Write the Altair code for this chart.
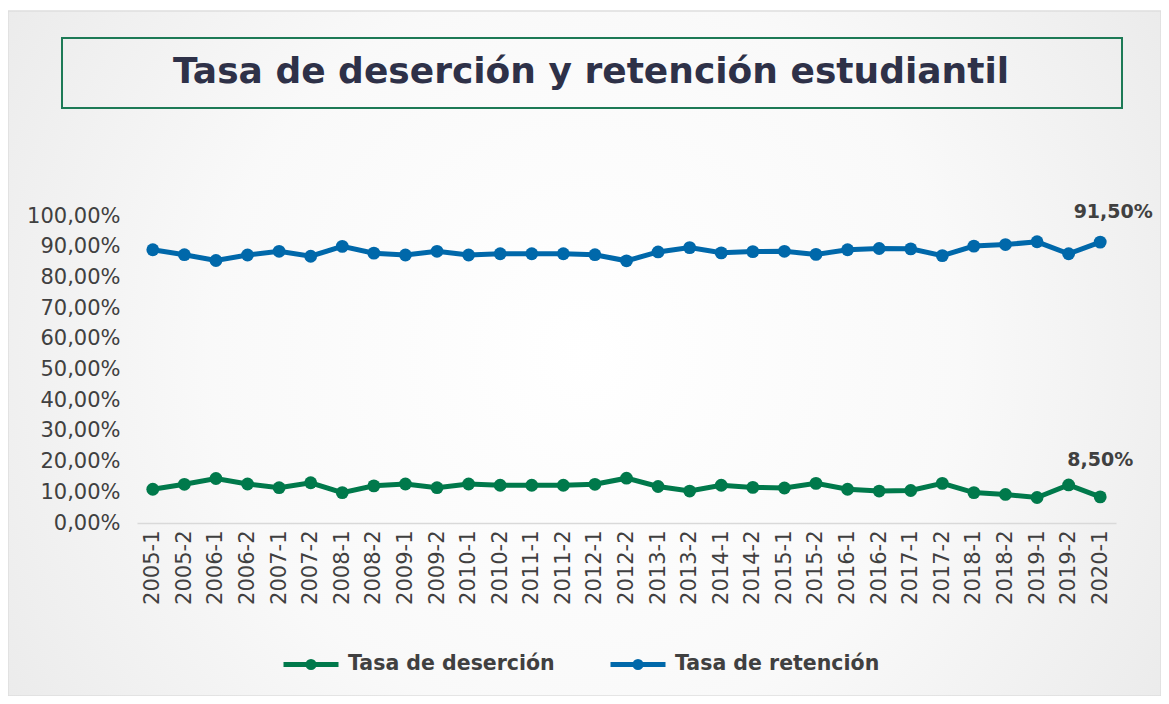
import altair as alt
import pandas as pd

# ---------------- data ----------------
periods = [
    "2005-1", "2005-2", "2006-1", "2006-2", "2007-1", "2007-2", "2008-1", "2008-2",
    "2009-1", "2009-2", "2010-1", "2010-2", "2011-1", "2011-2", "2012-1", "2012-2",
    "2013-1", "2013-2", "2014-1", "2014-2", "2015-1", "2015-2", "2016-1", "2016-2",
    "2017-1", "2017-2", "2018-1", "2018-2", "2019-1", "2019-2", "2020-1",
]
retencion = [
    89.0, 87.4, 85.5, 87.3, 88.5, 86.9, 90.1, 87.9, 87.3, 88.5, 87.3, 87.7, 87.7, 87.7, 87.4, 85.4,
    88.3, 89.7, 88.0, 88.4, 88.5, 87.5, 89.0, 89.4, 89.3, 87.1, 90.2, 90.7, 91.6, 87.7, 91.5,
]
desercion = [
    11.0, 12.6, 14.5, 12.7, 11.5, 13.1, 9.9, 12.1, 12.7, 11.5, 12.7, 12.3, 12.3, 12.3, 12.6, 14.6,
    11.9, 10.4, 12.3, 11.6, 11.4, 12.9, 11.0, 10.4, 10.6, 12.9, 9.9, 9.3, 8.3, 12.4, 8.5,
]
series_names = ["Tasa de deserción", "Tasa de retención"]
series_colors = ["#00794b", "#0068aa"]
y_ticks = [0, 10, 20, 30, 40, 50, 60, 70, 80, 90, 100]
title_text = "Tasa de deserción y retención estudiantil"

rows = []
for i, p in enumerate(periods):
    rows.append({"periodo": p, "serie": series_names[0], "valor": desercion[i], "idx": i})
    rows.append({"periodo": p, "serie": series_names[1], "valor": retencion[i], "idx": i})
df = pd.DataFrame(rows)
last_idx = len(periods) - 1

# ---------------- layout ----------------
W, H = 979, 307
PAD = {"left": 129, "top": 208, "right": 45, "bottom": 173}
FONT = "DejaVu Sans"
TXT = "#404040"

one = pd.DataFrame({"k": [0]})

background = alt.Chart(one).mark_rect(
    color=alt.Gradient(
        gradient="radial",
        stops=[
            alt.GradientStop(color="#ffffff", offset=0),
            alt.GradientStop(color="#f9f9f9", offset=0.45),
            alt.GradientStop(color="#e4e4e4", offset=1),
        ],
        x1=0.5, y1=0.5, r1=0, x2=0.5, y2=0.5, r2=0.72,
    ),
    stroke="#dedede",
    strokeWidth=1.5,
).encode(
    x=alt.value(-129), x2=alt.value(W + 45),
    y=alt.value(-205), y2=alt.value(H + 173),
)

title_box = alt.Chart(one).mark_rect(
    fillOpacity=0, stroke="#1d7a56", strokeWidth=2
).encode(
    x=alt.value(-75), x2=alt.value(985),
    y=alt.value(-178), y2=alt.value(-108),
)

title = alt.Chart(one).mark_text(
    font=FONT, fontSize=36, fontWeight="bold", color="#2e3148",
    align="center", baseline="middle",
).encode(
    x=alt.value(454), y=alt.value(-144), text=alt.value(title_text)
)

x_enc = alt.X(
    "periodo:N", sort=periods, title=None,
    axis=alt.Axis(
        labelAngle=-90, labelFont=FONT, labelFontSize=21, labelColor=TXT,
        ticks=False, domainColor="#d9d9d9", domainWidth=1.5, labelPadding=7,
        grid=False, zindex=1, labelOverlap=False,
    ),
)
y_enc = alt.Y(
    "valor:Q", title=None,
    scale=alt.Scale(domain=[0, 100], nice=False, zero=True),
    axis=alt.Axis(
        values=y_ticks, labelFont=FONT, labelFontSize=21, labelColor=TXT,
        labelExpr="replace(format(datum.value, '.2f'), '.', ',') + '%'",
        ticks=False, domain=False, grid=False, labelPadding=17, zindex=1,
        labelOverlap=False, labelFlush=False, labelBound=False,
    ),
)

lines = alt.Chart(df).mark_line(
    strokeWidth=5,
    point=alt.OverlayMarkDef(size=165, filled=True, opacity=1),
).encode(
    x=x_enc,
    y=y_enc,
    color=alt.Color(
        "serie:N",
        scale=alt.Scale(domain=series_names, range=series_colors),
        legend=alt.Legend(
            title=None, orient="none", direction="horizontal",
            legendX=144, legendY=418,
            symbolType="M-1,0H1M-0.11,0a0.11,0.11 0 1,0 0.22,0a0.11,0.11 0 1,0 -0.22,0",
            symbolSize=3025, symbolStrokeWidth=5,
            labelFont=FONT, labelFontSize=20.5, labelFontWeight="bold",
            labelColor=TXT, labelOffset=7, columnPadding=45, zindex=1,
            labelLimit=0,
        ),
    ),
)

label_expr = "replace(format(datum.valor, '.2f'), '.', ',') + '%'"

lab_ret = alt.Chart(df).transform_filter(
    (alt.datum.idx == last_idx) & (alt.datum.serie == series_names[1])
).transform_calculate(lbl=label_expr).mark_text(
    font=FONT, fontSize=19, fontWeight="bold", color=TXT,
    align="center", baseline="middle", dx=13, dy=-30,
).encode(x=x_enc, y=y_enc, text="lbl:N")

lab_des = alt.Chart(df).transform_filter(
    (alt.datum.idx == last_idx) & (alt.datum.serie == series_names[0])
).transform_calculate(lbl=label_expr).mark_text(
    font=FONT, fontSize=19, fontWeight="bold", color=TXT,
    align="center", baseline="middle", dx=0, dy=-37,
).encode(x=x_enc, y=y_enc, text="lbl:N")

chart = alt.layer(background, title_box, title, lines, lab_ret, lab_des).properties(
    width=W, height=H,
    autosize=alt.AutoSizeParams(type="none"),
    padding=PAD,
    background="#ffffff",
).configure_view(strokeWidth=0).configure_axis(labelOverlap=False)

chart.save("out.html", embed_options={"renderer": "svg", "actions": False})
